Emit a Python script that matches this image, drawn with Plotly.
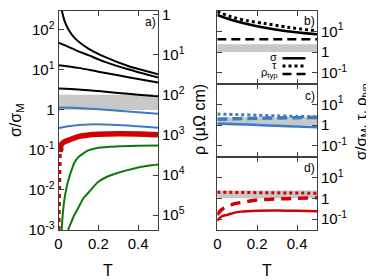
import plotly.graph_objects as go

# the page body adds an 8 px margin, so the figure is drawn 8 px smaller and
# all pixel positions below are measured in window pixels
OFF = 8
W, H = 374 - OFF, 280 - OFF

# ---------------- data ----------------
# panel a, sigma/sigma_M (left axis)
T_k1 = [0.012, 0.017, 0.03, 0.05, 0.083, 0.15, 0.233, 0.35, 0.5]
S_k1 = [420, 300, 170, 102, 61, 34, 21, 12.5, 7.8]
T_k2 = [0.0, 0.05, 0.1, 0.15, 0.233, 0.35, 0.5]
S_k2 = [48, 37.6, 29, 23.3, 15.8, 10.3, 6.4]
T_k3 = [0.0, 0.1, 0.2, 0.3, 0.4, 0.5]
S_k3 = [13.1, 11.2, 9.0, 7.3, 5.9, 4.8]
T_k4 = [0.0, 0.1, 0.2, 0.3, 0.4, 0.5]
S_k4 = [3.4, 3.25, 2.95, 2.65, 2.4, 2.2]
T_b1 = [0.0, 0.1, 0.2, 0.3, 0.4, 0.5]
S_b1 = [1.14, 1.12, 1.04, 0.95, 0.87, 0.80]
T_b2 = [0.0, 0.05, 0.15, 0.3, 0.4, 0.5]
S_b2 = [0.353, 0.39, 0.433, 0.42, 0.39, 0.36]
T_r = [0.008, 0.015, 0.03, 0.05, 0.1, 0.15, 0.2, 0.3, 0.4, 0.5]
S_r = [0.088, 0.14, 0.16, 0.175, 0.215, 0.235, 0.245, 0.253, 0.25, 0.24]
T_rdot = [0.0, 0.001, 0.002, 0.004, 0.006, 0.008]
S_rdot = [0.001, 0.006, 0.02, 0.05, 0.07, 0.088]
T_g1 = [0.016, 0.02, 0.025, 0.03, 0.04, 0.05, 0.06, 0.08, 0.1, 0.125, 0.15, 0.2, 0.3, 0.4, 0.5]
S_g1 = [0.001, 0.002, 0.0038, 0.006, 0.011, 0.018, 0.026, 0.048, 0.066, 0.082, 0.097, 0.113, 0.123, 0.127, 0.129]
T_g2 = [0.048, 0.06, 0.08, 0.1, 0.125, 0.15, 0.2, 0.25, 0.3, 0.375, 0.45, 0.5]
S_g2 = [0.001, 0.0014, 0.0024, 0.0036, 0.0062, 0.0085, 0.016, 0.022, 0.027, 0.034, 0.040, 0.043]

# gray band
T_band = [0.0, 0.5]
band_lo = [1.0, 1.0]
band_hi = [2.4, 2.4]

# panel b (black)
T_bs = [0.0, 0.05, 0.1, 0.15, 0.233, 0.35, 0.5]
b_sigma = [62, 42, 30, 23, 15.5, 10.2, 7.2]
T_bt = [0.0, 0.083, 0.15, 0.233, 0.35, 0.5]
b_tau = [90, 46, 33, 24.5, 16, 10.5]
T_bp = [0.0, 0.5]
b_rho = [4.2, 4.2]

# panel c (blue)
T_c = [0.0, 0.1, 0.2, 0.3, 0.4, 0.5]
c_sigma = [1.2, 1.12, 1.02, 0.93, 0.86, 0.80]
c_tau = [3.4, 3.25, 3.0, 2.8, 2.65, 2.5]
c_rho = [1.95, 2.05, 2.15, 2.22, 2.3, 2.35]

# panel d (red)
T_d = [0.0, 0.01, 0.025, 0.05, 0.083, 0.117, 0.2, 0.3, 0.4, 0.5]
d_sigma = [0.083, 0.11, 0.14, 0.16, 0.2, 0.23, 0.255, 0.26, 0.25, 0.24]
d_rho = [0.16, 0.22, 0.3, 0.4, 0.54, 0.63, 0.83, 0.93, 1.0, 1.07]
T_dt = [0.0, 0.5]
d_tau = [1.97, 1.76]

# axis ticks
x_ticks = [0, 0.2, 0.4]
x_labels = ["0", "0.2", "0.4"]
sa_ticks = [1e-3, 1e-2, 1e-1, 1, 10, 100]
sa_labels = ["10<sup>-3</sup>", "10<sup>-2</sup>", "10<sup>-1</sup>", "1", "10<sup>1</sup>", "10<sup>2</sup>"]
rho_ticks = [1, 10, 100, 1e3, 1e4, 1e5]
rho_labels = ["1", "10<sup>1</sup>", "10<sup>2</sup>", "10<sup>3</sup>", "10<sup>4</sup>", "10<sup>5</sup>"]
s_ticks = [0.1, 1, 10]
s_labels = ["10<sup>-1</sup>", "1", "10<sup>1</sup>"]

# ---------------- styles ----------------
BLACK = "#000000"
BLUE = "#3b7cc4"
RED = "#d40000"
GREEN = "#0b7a0b"
GRAY = "#c8c8c8"
FRAME = "#404040"
FONT = "Liberation Sans, Arial, sans-serif"


def fx(px):
    return (px - OFF) / W


def fy(py):
    return 1 - (py - OFF) / H


fig = go.Figure()


def line(x, y, color, width, xa="x", ya="y", dash="solid", shape="spline"):
    fig.add_trace(go.Scatter(x=x, y=y, mode="lines", xaxis=xa, yaxis=ya,
                             line=dict(color=color, width=width, dash=dash, shape=shape,
                                       smoothing=0.8),
                             showlegend=False, hoverinfo="skip"))


def band(xa, ya):
    fig.add_trace(go.Scatter(x=T_band, y=band_lo, mode="lines", xaxis=xa, yaxis=ya,
                             line=dict(width=0, color=GRAY), showlegend=False, hoverinfo="skip"))
    fig.add_trace(go.Scatter(x=T_band, y=band_hi, mode="lines", xaxis=xa, yaxis=ya,
                             fill="tonexty", fillcolor=GRAY,
                             line=dict(width=0, color=GRAY), showlegend=False, hoverinfo="skip"))


# panel a
band("x", "y")
for tx, sy in [(T_k1, S_k1), (T_k2, S_k2), (T_k3, S_k3), (T_k4, S_k4)]:
    line(tx, sy, BLACK, 2)
line(T_b1, S_b1, BLUE, 2)
line(T_b2, S_b2, BLUE, 2)
line(T_g1, S_g1, GREEN, 2)
line(T_g2, S_g2, GREEN, 2)
line(T_rdot, S_rdot, RED, 4, dash="4px,4px", shape="linear")
line(T_r, S_r, RED, 5.5)
# invisible carrier so the right-hand rho axis is drawn
fig.add_trace(go.Scatter(x=[x_ticks[0], x_ticks[-1]], y=[rho_ticks[0], rho_ticks[-1]],
                         mode="lines", xaxis="x", yaxis="y2", line=dict(width=0),
                         opacity=0, showlegend=False, hoverinfo="skip"))

# panel b
band("x4", "y5")
line(T_bs, b_sigma, BLACK, 2.5, "x4", "y5")
line(T_bt, b_tau, BLACK, 3, "x4", "y5", dash="dot")
line(T_bp, b_rho, BLACK, 2.5, "x4", "y5", dash="9px,5px")

# panel c
band("x3", "y4")
line(T_c, c_sigma, BLUE, 2.5, "x3", "y4")
line(T_c, c_rho, BLUE, 3.5, "x3", "y4", dash="10px,5px")
line(T_c, c_tau, BLUE, 3, "x3", "y4", dash="dot")

# panel d
band("x2", "y3")
line(T_d, d_sigma, RED, 2.5, "x2", "y3")
line(T_d, d_rho, RED, 3.5, "x2", "y3", dash="10px,7px")
line(T_dt, d_tau, RED, 3, "x2", "y3", dash="dot")

# ---------------- layout ----------------
xa_dom = [fx(58.5), fx(158)]
xb_dom = [fx(217.3), fx(317)]


def ydom(top, bot):
    return [fy(bot), fy(top)]


tickfont = dict(family=FONT, size=15, color="#000")
common = dict(showline=True, linecolor=FRAME, linewidth=1, ticks="inside", ticklen=5,
              tickcolor=FRAME, tickwidth=1, showgrid=False, zeroline=False,
              tickfont=tickfont, automargin=False, ticklabeloverflow="allow")

xcommon = dict(common, range=[0, 0.5], tickvals=x_ticks, ticktext=x_labels, mirror="ticks")

fig.update_layout(
    width=W, height=H, margin=dict(l=0, r=0, t=0, b=0, pad=0, autoexpand=False),
    paper_bgcolor="white", plot_bgcolor="white", showlegend=False,
    font=dict(family=FONT, size=15, color="#000"),
    xaxis=dict(xcommon, domain=xa_dom, anchor="y"),
    yaxis=dict(common, domain=ydom(10.7, 230), type="log", range=[-3, 2.477],
               tickvals=sa_ticks, ticktext=sa_labels, anchor="x", side="left"),
    yaxis2=dict(common, overlaying="y", type="log", range=[5.371, -0.106], side="right",
                anchor="x", tickvals=rho_ticks, ticktext=rho_labels),
    xaxis2=dict(xcommon, domain=xb_dom, anchor="y3"),
    yaxis3=dict(common, domain=ydom(156.8, 230), type="log", range=[-1.523, 2],
                tickvals=s_ticks, ticktext=s_labels, side="right", mirror="ticks", anchor="x2"),
    xaxis3=dict(xcommon, domain=xb_dom, anchor="y4", showticklabels=False),
    yaxis4=dict(common, domain=ydom(83.6, 156.8), type="log", range=[-1.523, 2],
                tickvals=s_ticks, ticktext=s_labels, side="right", mirror="ticks", anchor="x3"),
    xaxis4=dict(xcommon, domain=xb_dom, anchor="y5", showticklabels=False),
    yaxis5=dict(common, domain=ydom(10.7, 83.6), type="log", range=[-1.523, 2],
                tickvals=s_ticks, ticktext=s_labels, side="right", mirror="ticks", anchor="x4"),
)


def ann(text, px, py, size=15, angle=0, xanchor="center"):
    fig.add_annotation(text=text, x=fx(px), y=fy(py), xref="paper", yref="paper",
                       showarrow=False, textangle=angle, xanchor=xanchor, yanchor="middle",
                       font=dict(family=FONT, size=size, color="#000"))


ann("σ/σ<sub>M</sub>", 16, 120, 16, -90)
ann("ρ (μΩ cm)", 199, 120, 16, -90)
ann("σ/σ<sub>M</sub>, τ, ρ<sub>typ</sub>", 361, 122, 15, -90)
ann("T", 108, 270, 16)
ann("T", 267, 270, 16)
ann("a)", 150, 22, 12)
ann("b)", 309, 21, 12)
ann("c)", 310, 96, 12)
ann("d)", 309, 168, 12)

# legend of panel b
ann("σ", 279, 57, 11, xanchor="right")
ann("τ", 279, 65, 11, xanchor="right")
ann("ρ<sub>typ</sub>", 280, 73, 11, xanchor="right")
for yy, dash, wd in [(58.3, "solid", 2.5), (66, "dot", 3), (74, "9px,5px", 2.5)]:
    fig.add_shape(type="line", xref="paper", yref="paper", x0=fx(282.5), x1=fx(305.5),
                  y0=fy(yy), y1=fy(yy), line=dict(color=BLACK, width=wd, dash=dash))

fig.write_html("out.html")
